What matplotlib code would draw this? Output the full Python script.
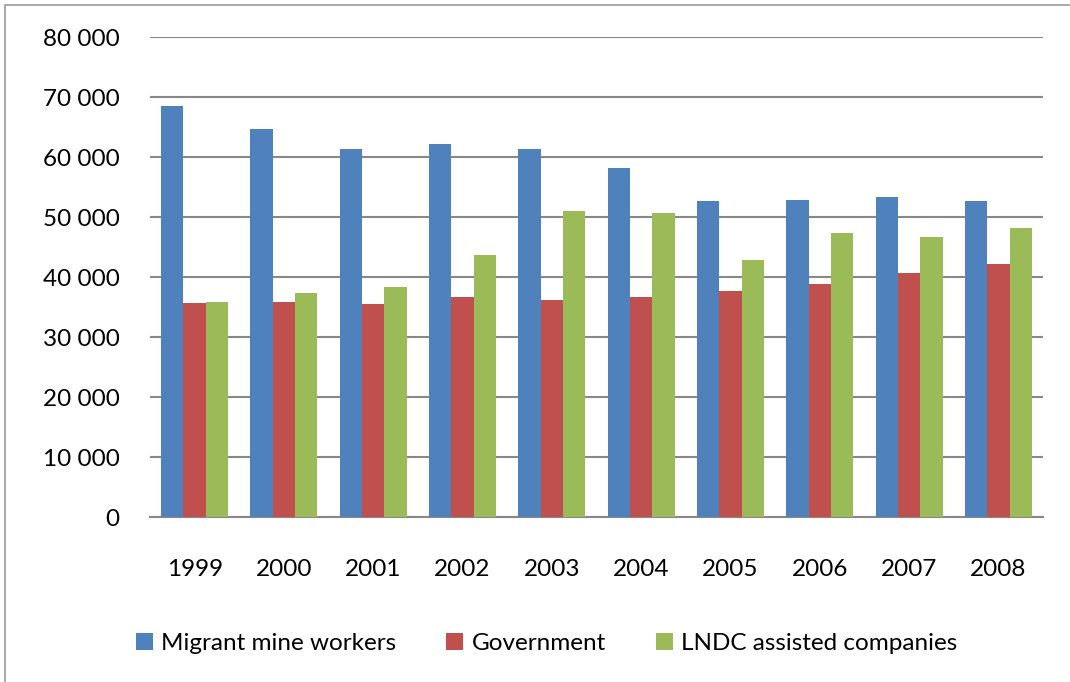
import matplotlib
matplotlib.use("Agg")
import matplotlib.pyplot as plt
import numpy as np
from matplotlib.patches import Rectangle

years = ["1999", "2000", "2001", "2002", "2003", "2004", "2005", "2006", "2007", "2008"]
migrant_mine_workers = [68500, 64700, 61400, 62200, 61400, 58100, 52600, 52900, 53300, 52600]
government = [35600, 35900, 35500, 36600, 36200, 36600, 37700, 38900, 40700, 42200]
lndc_assisted = [35900, 37400, 38400, 43700, 51000, 50700, 42900, 47300, 46700, 48100]

series_names = ["Migrant mine workers", "Government", "LNDC assisted companies"]
colors = ["#4F81BD", "#C0504D", "#9BBB59"]

plt.rcParams["font.family"] = ["Lato", "DejaVu Sans"]

fig = plt.figure(figsize=(10.70, 6.82), dpi=100)
ax = fig.add_axes([150 / 1070, 1 - 517 / 682, (1043 - 150) / 1070, 480 / 682])

x = np.arange(len(years))
w = 0.25
for i, (vals, name, c) in enumerate(zip([migrant_mine_workers, government, lndc_assisted], series_names, colors)):
    ax.bar(x + (i - 1) * w, vals, width=w, color=c, label=name, zorder=3)

ax.set_ylim(0, 80000)
ax.set_xlim(-0.5, len(years) - 0.5)
ax.set_yticks(range(0, 80001, 10000))
ax.set_yticklabels([f"{v:,}".replace(",", " ") for v in range(0, 80001, 10000)], fontsize=17.5)
ax.set_xticks(x)
ax.set_xticklabels(years, fontsize=17.5)
ax.tick_params(axis="y", length=0, pad=22)
ax.tick_params(axis="x", length=0, pad=30)
ax.grid(axis="y", color="#888888", linewidth=1.5, zorder=0)
for s in ["left", "right", "top"]:
    ax.spines[s].set_visible(False)
ax.spines["bottom"].set_color("#888888")
ax.spines["bottom"].set_linewidth(1.5)

ax.legend(loc="center", bbox_to_anchor=(0.444, -0.264), ncol=3, frameon=False,
          fontsize=17.5, handlelength=0.7, handleheight=0.7, columnspacing=2.05, handletextpad=0.35)

fig.patches.append(Rectangle((5 / 1070, -0.05), 1.2, 1 - 5 / 682 + 0.05, transform=fig.transFigure,
                             fill=False, edgecolor="#999999", linewidth=1.2))

fig.savefig("out.png", dpi=100)
